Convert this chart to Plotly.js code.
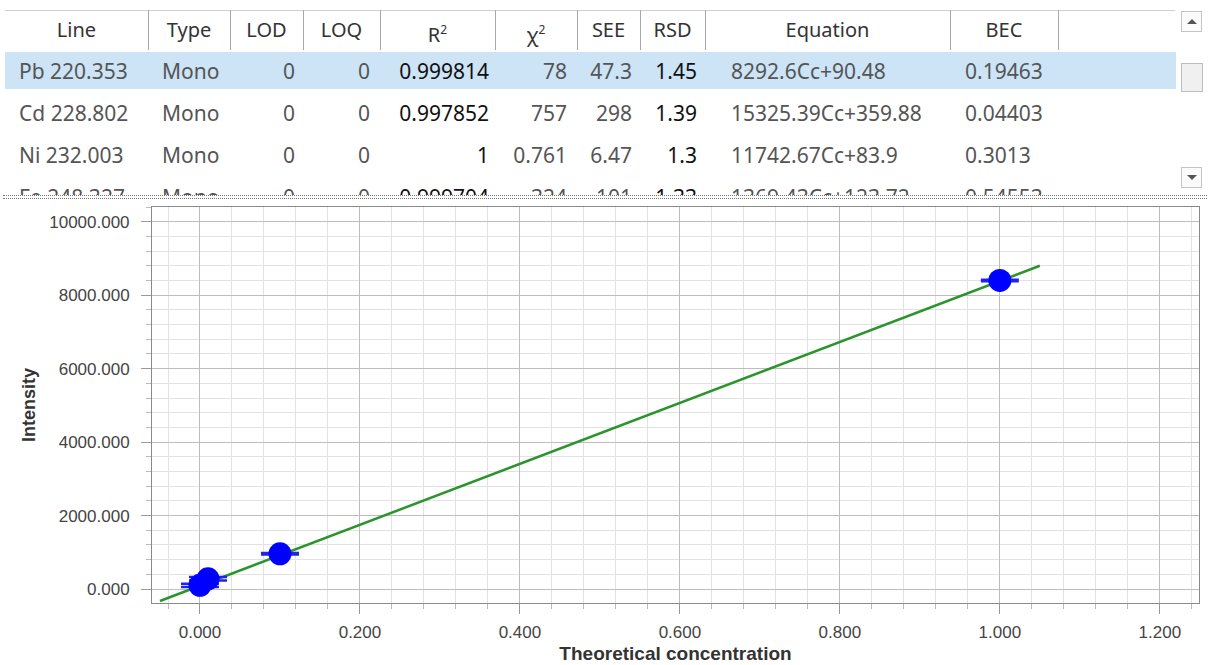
<!DOCTYPE html>
<html>
<head>
<meta charset="utf-8">
<script src="https://cdn.plot.ly/plotly-3.0.1.min.js"></script>
<style>
  html, body { margin:0; padding:0; background:#fff; width:1209px; height:665px; overflow:hidden; }
  #tbl { position:absolute; left:0; top:0; width:1209px; height:195px; overflow:hidden;
         font-family:"Noto Sans","Open Sans",sans-serif; font-size:21px; color:#555; }
  .cell { position:absolute; white-space:nowrap; line-height:26px; height:26px; }
  .hdr { color:#333; font-size:20px; }
  .sep { position:absolute; width:1px; background:#a8a8a8; top:10px; height:40px; }
  #chart { position:absolute; left:0; top:200px; width:1209px; height:465px; }
  .sbtn { position:absolute; left:1181px; width:21px; height:21px; border:1px solid #c4c4c4; background:#fbfbfb; box-sizing:border-box; }
  .tri-up { position:absolute; left:5px; top:7px; width:0; height:0; border-left:5px solid transparent; border-right:5px solid transparent; border-bottom:5px solid #555; }
  .tri-dn { position:absolute; left:5px; top:7px; width:0; height:0; border-left:5px solid transparent; border-right:5px solid transparent; border-top:5px solid #555; }
</style>
</head>
<body>
<div id="tbl"></div>
<div style="position:absolute;left:3px;top:195px;width:1204px;height:2px;border-top:1px dotted #777;border-bottom:1px dotted #777;"></div>
<div class="sbtn" style="top:11px;"><div class="tri-up"></div></div>
<div style="position:absolute;left:1181px;top:63px;width:22px;height:29px;border:1px solid #bdbdbd;background:#f0f0f0;box-sizing:border-box;"></div>
<div class="sbtn" style="top:167px;"><div class="tri-dn"></div></div>
<div id="chart"></div>
<script>
// ---- table data ----
var headers   = ["Line", "Type", "LOD", "LOQ", "R<sup style='font-size:12px'>2</sup>", "&chi;<sup style='font-size:12px'>2</sup>", "SEE", "RSD", "Equation", "BEC", ""];
var lines     = ["Pb 220.353", "Cd 228.802", "Ni 232.003", "Fe 248.327"];
var types     = ["Mono", "Mono", "Mono", "Mono"];
var lods      = ["0", "0", "0", "0"];
var loqs      = ["0", "0", "0", "0"];
var r2s       = ["0.999814", "0.997852", "1", "0.999704"];
var chi2s     = ["78", "757", "0.761", "324"];
var sees      = ["47.3", "298", "6.47", "101"];
var rsds      = ["1.45", "1.39", "1.3", "1.33"];
var equations = ["8292.6Cc+90.48", "15325.39Cc+359.88", "11742.67Cc+83.9", "1369.43Cc+123.72"];
var becs      = ["0.19463", "0.04403", "0.3013", "0.54553"];

// ---- chart data ----
var stdConc      = [0, 0.01, 0.1, 1.0];
var stdIntensity = [100, 280, 960, 8400];
var stdErr       = [45, 45, 20, 20];
var fitConc      = [-0.05, 1.05];
var fitIntensity = [-325, 8800];

(function buildTable() {
  var tbl = document.getElementById('tbl');
  var colEdges = [5, 148, 230, 303, 380, 495, 577, 640, 705, 950, 1058, 1175];
  function addCell(html, left, width, y, align, cls, color, weight) {
    var d = document.createElement('div');
    d.className = 'cell' + (cls ? ' ' + cls : '');
    d.style.left = left + 'px'; d.style.width = width + 'px'; d.style.top = y + 'px';
    d.style.textAlign = align;
    if (color) d.style.color = color;
    if (weight) d.style.fontWeight = weight;
    d.innerHTML = html;
    tbl.appendChild(d);
  }
  var tb = document.createElement('div');
  tb.style.cssText = 'position:absolute;left:5px;top:10px;width:1170px;height:1px;background:#cfcfcf;';
  tbl.appendChild(tb);
  var hl = document.createElement('div');
  hl.style.cssText = 'position:absolute;left:5px;top:52px;width:1171px;height:37px;background:#cce4f6;';
  tbl.appendChild(hl);
  for (var i = 1; i < colEdges.length - 1; i++) {
    var s = document.createElement('div'); s.className = 'sep'; s.style.left = colEdges[i] + 'px'; tbl.appendChild(s);
  }
  for (var i = 0; i < headers.length; i++) {
    addCell(headers[i], colEdges[i], colEdges[i+1] - colEdges[i], 17, 'center', 'hdr');
  }
  var rowCenters = [71, 113, 155, 197];
  for (var r = 0; r < lines.length; r++) {
    var ry = rowCenters[r] - 13;
    addCell(lines[r], 19, 130, ry, 'left');
    addCell(types[r], 162, 70, ry, 'left');
    addCell(lods[r], 230, 65, ry, 'right');
    addCell(loqs[r], 303, 67, ry, 'right');
    addCell(r2s[r], 375, 114, ry, 'right', null, '#111');
    addCell(chi2s[r], 495, 72, ry, 'right');
    addCell(sees[r], 577, 55, ry, 'right');
    addCell(rsds[r], 640, 57, ry, 'right', null, '#111');
    addCell(equations[r], 731, 230, ry, 'left');
    addCell(becs[r], 965, 100, ry, 'left');
  }
})();

// ---- chart ----
var fitTrace = {
  x: fitConc, y: fitIntensity, mode: 'lines', type: 'scatter',
  line: { color: '#2c942c', width: 2.5 }, hoverinfo: 'skip', showlegend: false
};
var ptTrace = {
  x: stdConc, y: stdIntensity, mode: 'markers', type: 'scatter',
  marker: { color: '#0000ff', size: 23 },
  error_y: { type: 'data', array: stdErr, visible: true, color: '#2222ee', thickness: 2.5, width: 19 },
  showlegend: false
};
var axisFont = { family: 'Liberation Sans, Arial, sans-serif', size: 17, color: '#444' };
var layout = {
  width: 1209, height: 465,
  margin: { l: 152, r: 10, t: 7, b: 62 },
  paper_bgcolor: '#fff', plot_bgcolor: '#fff',
  showlegend: false,
  xaxis: {
    range: [-0.06, 1.249], tick0: 0, dtick: 0.2, tickformat: '.3f',
    showgrid: true, gridcolor: '#bdbdbd', gridwidth: 1,
    zeroline: false, showline: true, linecolor: '#8a8a8a', linewidth: 1, mirror: true,
    ticks: 'outside', ticklen: 10, tickcolor: '#9a9a9a', tickwidth: 1,
    tickfont: axisFont, ticklabelstandoff: 4,
    minor: { dtick: 0.04, tick0: 0, showgrid: true, gridcolor: '#e2e2e2', gridwidth: 1, ticks: 'outside', ticklen: 5, tickcolor: '#bbbbbb' },
    title: { text: 'Theoretical concentration', font: { family: 'Liberation Sans, Arial, sans-serif', size: 19, color: '#333', weight: 'bold' }, standoff: 5 }
  },
  yaxis: {
    range: [-380, 10400], tick0: 0, dtick: 2000, tickformat: '.3f',
    showgrid: true, gridcolor: '#bdbdbd', gridwidth: 1,
    zeroline: false, showline: true, linecolor: '#8a8a8a', linewidth: 1, mirror: true,
    ticks: 'outside', ticklen: 10, tickcolor: '#9a9a9a', tickwidth: 1,
    tickfont: axisFont, ticklabelstandoff: 8,
    minor: { dtick: 400, tick0: 0, showgrid: true, gridcolor: '#e2e2e2', gridwidth: 1, ticks: 'outside', ticklen: 5, tickcolor: '#bbbbbb' },
    title: { text: 'Intensity', font: { family: 'Liberation Sans, Arial, sans-serif', size: 18, color: '#333', weight: 'bold' }, standoff: 8 }
  }
};
Plotly.newPlot('chart', [fitTrace, ptTrace], layout, { displayModeBar: false, staticPlot: true });
</script>
</body>
</html>
